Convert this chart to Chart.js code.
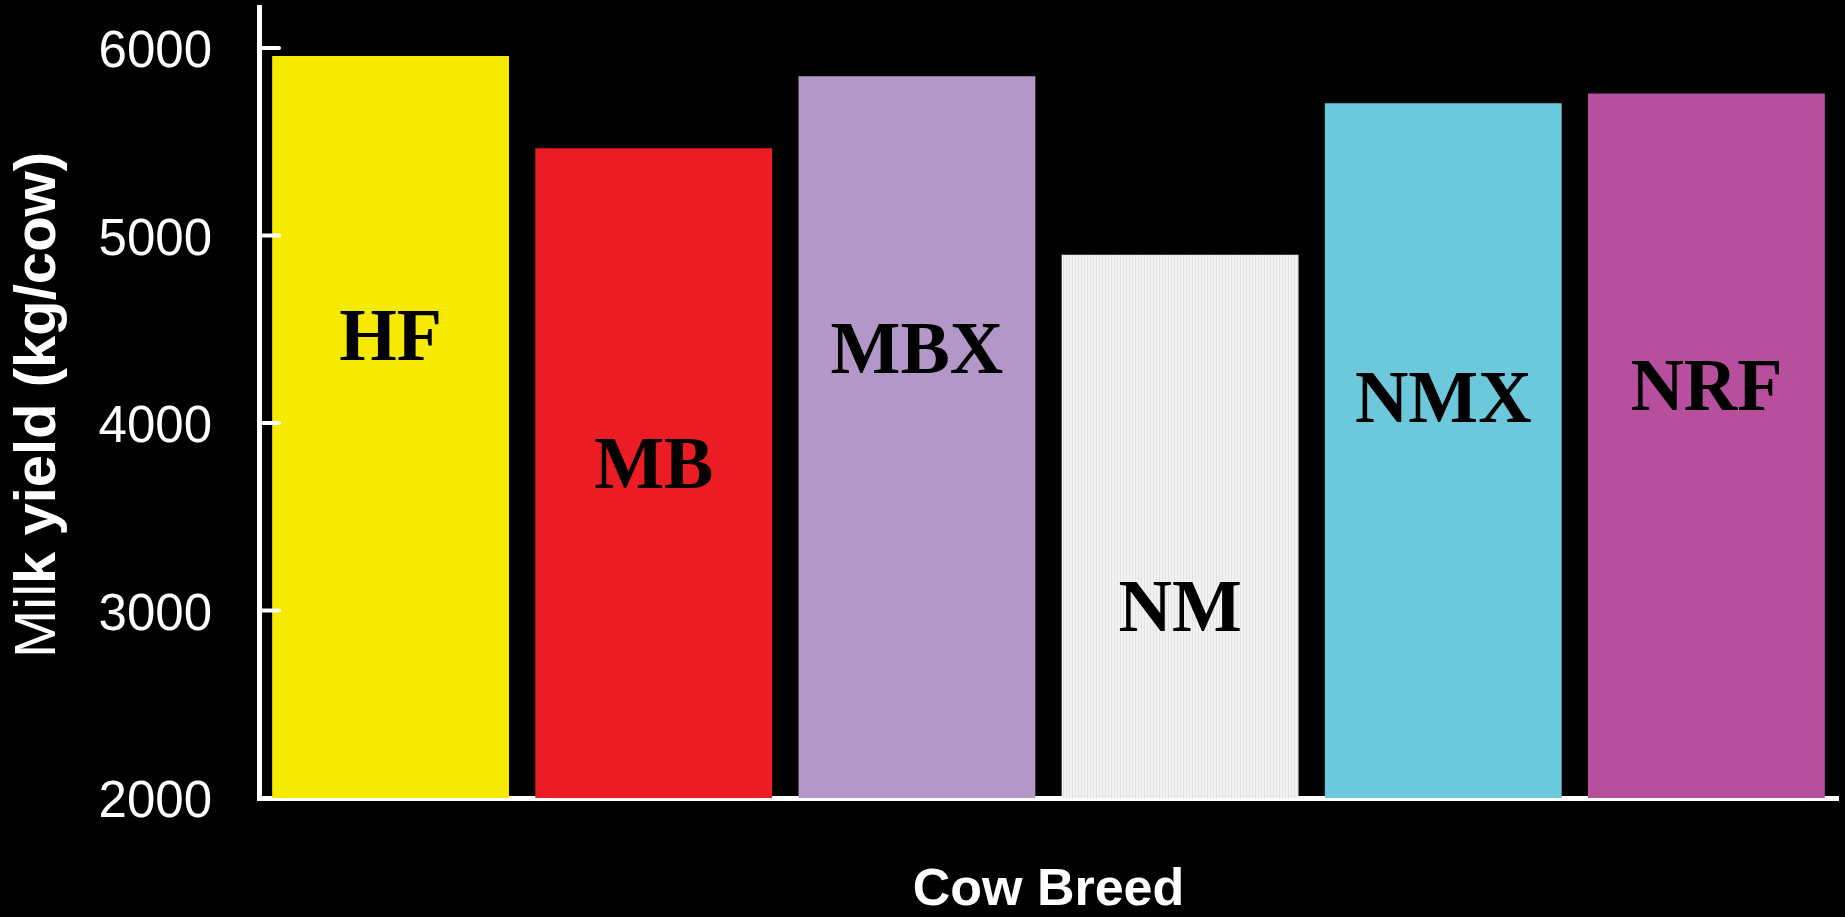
<!DOCTYPE html>
<html>
<head>
<meta charset="utf-8">
<title>Milk yield by cow breed</title>
<script src="https://cdn.jsdelivr.net/npm/chart.js@4.4.1/dist/chart.umd.min.js"></script>
<style>
	html, body { margin: 0; padding: 0; background: #000; overflow: hidden; }
	#wrap { width: 1845px; height: 917px; position: relative; }
</style>
</head>
<body>
<div id="wrap"><canvas id="milkChart"></canvas></div>
<script>
const breeds = ['HF', 'MB', 'MBX', 'NM', 'NMX', 'NRF'];
const milkYield = [5957, 5465, 5850, 4898, 5706, 5758];
const yTicks = [2000, 3000, 4000, 5000, 6000];
// height (kg/cow) at which each breed name sits inside its bar
const labelLevels = [4440, 3755, 4370, 2990, 4110, 4170];

document.addEventListener('DOMContentLoaded', function() {

	// NM bar is a pale grey with fine vertical hatching
	function hatchPattern() {
		const c = document.createElement('canvas');
		c.width = 3;
		c.height = 4;
		const g = c.getContext('2d');
		g.fillStyle = '#f3f3f3';
		g.fillRect(0, 0, 3, 4);
		g.fillStyle = '#e2e2e2';
		g.fillRect(1, 0, 1, 4);
		return g.createPattern(c, 'repeat');
	}

	const barNames = {
		id: 'barNames',
		afterDatasetsDraw(chart) {
			const ctx = chart.ctx;
			const yScale = chart.scales.y;
			const bars = chart.getDatasetMeta(0).data;
			ctx.save();
			ctx.fillStyle = '#000';
			ctx.font = 'bold 74px "Liberation Serif", "Times New Roman", serif';
			ctx.textAlign = 'center';
			ctx.textBaseline = 'middle';
			bars.forEach((bar, i) => {
				ctx.fillText(breeds[i], bar.x, yScale.getPixelForValue(labelLevels[i]));
			});
			ctx.restore();
		}
	};

	// y title ("Mil" set lighter than the rest) and the inward tick marks
	const axisExtras = {
		id: 'axisExtras',
		afterDraw(chart) {
			const ctx = chart.ctx;
			const area = chart.chartArea;
			const yScale = chart.scales.y;

			ctx.save();
			ctx.strokeStyle = '#fff';
			ctx.lineWidth = 4;
			ctx.lineCap = 'round';
			yTicks.slice(1).forEach(v => {
				const y = yScale.getPixelForValue(v);
				ctx.beginPath();
				ctx.moveTo(area.left, y);
				ctx.lineTo(area.left + 20, y);
				ctx.stroke();
			});
			ctx.restore();

			const light = '58px "Liberation Sans", Arial, sans-serif';
			const heavy = 'bold 58px "Liberation Sans", Arial, sans-serif';
			const partA = 'Mil';
			const partB = 'k yield (kg/cow)';
			ctx.save();
			ctx.translate(39, 405);
			ctx.rotate(-Math.PI / 2);
			ctx.fillStyle = '#fff';
			ctx.textBaseline = 'middle';
			ctx.textAlign = 'left';
			ctx.font = light;
			const wA = ctx.measureText(partA).width;
			ctx.font = heavy;
			const wB = ctx.measureText(partB).width;
			let x = -(wA + wB) / 2;
			ctx.font = light;
			ctx.fillText(partA, x, 0);
			ctx.font = heavy;
			ctx.fillText(partB, x + wA, 0);
			ctx.restore();
		}
	};

	function drawChart() {
		const ctx = document.getElementById('milkChart').getContext('2d');

		new Chart(ctx, {
			type: 'bar',
			data: {
				labels: breeds,
				datasets: [{
					label: 'Milk yield',
					data: milkYield,
					backgroundColor: ['#f5ea00', '#ec1c24', '#b497c9', hatchPattern(), '#6bc9db', '#b84f9e'],
					borderWidth: 0,
					barPercentage: 0.9,
					categoryPercentage: 1.0
				}]
			},
			options: {
				responsive: true,
				maintainAspectRatio: false,
				animation: false,
				layout: {
					padding: { top: 7, right: 7, bottom: 0, left: 0 }
				},
				scales: {
					x: {
						z: 1,
						grid: { display: false, drawTicks: false },
						border: { display: true, color: '#fff', width: 5 },
						ticks: { display: false },
						title: {
							display: true,
							text: 'Cow Breed',
							color: '#fff',
							font: { family: '"Liberation Sans", Arial, sans-serif', size: 52, weight: 'bold', lineHeight: 1 },
							padding: 0
						},
						afterFit: scale => { scale.height = 119; }
					},
					y: {
						z: 1,
						min: 2000,
						max: 6219,
						grid: { display: false, drawTicks: false },
						border: { display: true, color: '#fff', width: 5 },
						afterBuildTicks: scale => {
							scale.ticks = yTicks.map(v => ({ value: v }));
						},
						ticks: {
							color: '#fff',
							padding: 47,
							labelOffset: 5,
							font: { family: '"Liberation Sans", Arial, sans-serif', size: 51 },
							callback: value => String(value)
						},
						afterFit: scale => {
							scale.width = 259;
							// let the plot run right up to the top edge
							scale.paddingTop = 0;
							scale.paddingBottom = 0;
						}
					}
				},
				plugins: {
					legend: { display: false },
					tooltip: { enabled: false }
				}
			},
			plugins: [barNames, axisExtras]
		});
	}

	drawChart();
});
</script>
</body>
</html>
